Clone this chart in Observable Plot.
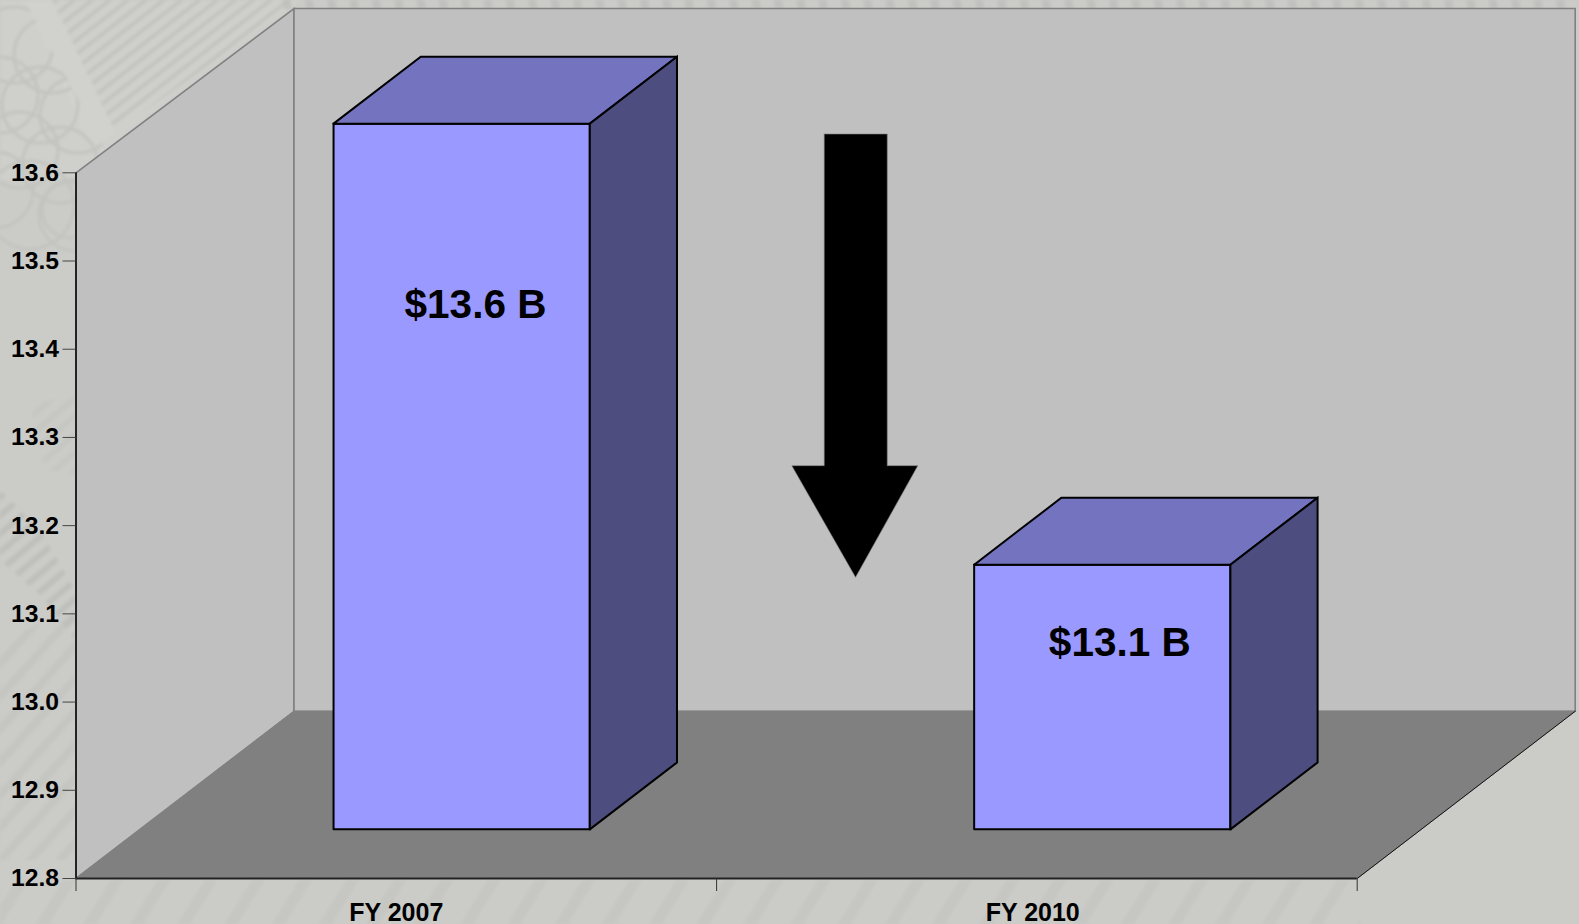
<!DOCTYPE html>
<html>
<head>
<meta charset="utf-8">
<style>
  html, body { margin: 0; padding: 0; width: 1579px; height: 924px; overflow: hidden; background: #cacac7; }
  #bg { position: absolute; left: 0; top: 0; filter: blur(1.6px); }
  #chart { position: absolute; left: 0; top: 0; }
</style>
<script src="https://cdn.jsdelivr.net/npm/d3@7"></script>
<script src="https://cdn.jsdelivr.net/npm/@observablehq/plot@0.6"></script>
</head>
<body>
<!-- faint banknote engraving behind the chart: decoration only, no data -->
<svg id="bg" width="1579" height="924" xmlns="http://www.w3.org/2000/svg">
  <defs>
    <pattern id="h1" width="11" height="11" patternUnits="userSpaceOnUse" patternTransform="rotate(-38)">
      <rect width="11" height="3.5" fill="#c2c2bf"/>
    </pattern>
    <pattern id="h2" width="14" height="14" patternUnits="userSpaceOnUse" patternTransform="rotate(-40)">
      <rect width="14" height="6" fill="#b8b8b5"/>
    </pattern>
    <pattern id="h3" width="22" height="22" patternUnits="userSpaceOnUse" patternTransform="rotate(-48)">
      <rect width="22" height="8" fill="#bdbdba"/>
    </pattern>
    <pattern id="h4" width="40" height="40" patternUnits="userSpaceOnUse" patternTransform="rotate(-58)">
      <rect width="40" height="11" fill="#bdbdbb"/>
    </pattern>
    <pattern id="h5" width="22" height="22" patternUnits="userSpaceOnUse" patternTransform="rotate(80)">
      <rect width="22" height="8" fill="#bcbcba"/>
    </pattern>
    <clipPath id="lat"><polygon points="0,0 25,0 105,150 80,280 0,280"/></clipPath>
  </defs>
  <rect width="1579" height="924" fill="#cbcbc8"/>
  <polygon points="0,0 300,0 130,130 75,180 0,180" fill="#cfcfcc"/>
  <polygon points="52,0 300,0 115,132" fill="url(#h1)"/>
  <polygon points="25,0 52,0 115,132 92,150" fill="#d1d1ce"/>
  <g clip-path="url(#lat)" fill="none" stroke="#c3c3c0" stroke-width="3">
    <circle cx="15" cy="45" r="38"/><circle cx="52" cy="55" r="38"/><circle cx="0" cy="95" r="38"/>
    <circle cx="40" cy="105" r="38"/><circle cx="78" cy="115" r="38"/><circle cx="20" cy="150" r="38"/>
    <circle cx="60" cy="165" r="38"/><circle cx="-5" cy="190" r="38"/><circle cx="75" cy="215" r="36"/>
    <circle cx="70" cy="210" r="28"/><circle cx="30" cy="205" r="44"/>
  </g>
  <polygon points="30,405 75,395 75,475 45,470" fill="url(#h2)" opacity=".25"/>
  <polygon points="0,490 40,530 75,590 75,640 40,595 0,560" fill="url(#h2)" opacity=".65"/>
  <polygon points="0,640 75,610 75,860 0,860" fill="url(#h3)" opacity=".4"/>
  <rect x="0" y="880" width="1360" height="44" fill="url(#h4)" opacity=".35"/>
  <rect x="280" y="0" width="1299" height="9" fill="url(#h5)" opacity=".7"/>
</svg>
<div id="chart"></div>
<script>
// Data
const categories = ["FY 2007", "FY 2010"];
const values = [13.6, 13.1];
const valueLabels = ["$13.6 B", "$13.1 B"];
const yTicks = [12.8, 12.9, 13.0, 13.1, 13.2, 13.3, 13.4, 13.5, 13.6];
const categoryCenters = [0.5, 1.4935];
const valueLabelX = [0.6236, 1.6294];
const valueLabelY = [13.4506, 13.0674];
const arrowX = [1.168, 1.2664, 1.2664, 1.3141, 1.2169, 1.1174, 1.168, 1.168];
const arrowY = [13.644, 13.644, 13.268, 13.268, 13.1414, 13.268, 13.268, 13.644];

// Oblique view: one unit of depth moves a point right and up, in data units
const baseValue = 12.8, topValue = 13.6, nCategories = 2;
const shearX = 218 / 640.6, shearY = 167.3 / 882.5;
const backTopValue = 13.5966;
const P = (c, v, d) => ({x: c + d * shearX, y: v + d * shearY});
const poly = (corners) => [...corners, corners[0]].map(([c, v, d]) => P(c, v, d));

const barHalf = 0.2, barShift = 0.002, d0 = 0.294, d1 = 0.694;
const barFaces = values.flatMap((v, i) => {
  const c0 = i + 0.5 + barShift - barHalf, c1 = i + 0.5 + barShift + barHalf;
  return [
    {pts: poly([[c0, baseValue, d0], [c1, baseValue, d0], [c1, v, d0], [c0, v, d0]]), fill: "#9999ff"},
    {pts: poly([[c0, v, d0], [c1, v, d0], [c1, v, d1], [c0, v, d1]]), fill: "#7373bf"},
    {pts: poly([[c1, baseValue, d0], [c1, baseValue, d1], [c1, v, d1], [c1, v, d0]]), fill: "#4d4d80"}
  ];
});

const face = (pts, o) => Plot.line(pts, {x: "x", y: "y", strokeLinejoin: "miter", strokeMiterlimit: 3, ...o});

const plot = Plot.plot({
  width: 1579, height: 924,
  marginLeft: 75.5, marginRight: 222.3, marginTop: 172.3, marginBottom: 46,
  style: {background: "transparent", fontFamily: "'Liberation Sans', Arial, sans-serif", color: "#000", overflow: "visible"},
  x: {type: "linear", domain: [0, nCategories]},
  y: {type: "linear", domain: [baseValue, topValue]},
  marks: [
    // side wall, back wall, floor
    face(poly([[0, baseValue, 0], [0, baseValue, 1], [0, backTopValue, 1], [0, topValue, 0]]), {fill: "#c0c0c0", stroke: "#808080", strokeWidth: 1.6}),
    face(poly([[0, baseValue, 1], [nCategories, baseValue, 1], [nCategories, backTopValue, 1], [0, backTopValue, 1]]), {fill: "#c0c0c0", stroke: "#808080", strokeWidth: 1.6}),
    face(poly([[0, baseValue, 0], [nCategories, baseValue, 0], [nCategories, baseValue, 1], [0, baseValue, 1]]), {fill: "#808080", stroke: "#808080", strokeWidth: 1}),
    face([P(nCategories, baseValue, 0), P(nCategories, baseValue, 1)], {stroke: "#111", strokeWidth: 1}),
    // bars
    ...barFaces.map(f => face(f.pts, {fill: f.fill, stroke: "#000", strokeWidth: 2})),
    // arrow
    face(arrowX.map((x, i) => ({x, y: arrowY[i]})), {fill: "#000", stroke: "#808080", strokeWidth: 0.6}),
    // axes
    Plot.ruleX([0], {y1: baseValue, y2: topValue, stroke: "#000", strokeWidth: 1.5}),
    Plot.ruleY([baseValue], {x1: 0, x2: nCategories, stroke: "#222", strokeWidth: 1.8}),
    Plot.axisY({ticks: yTicks, tickSize: 13, tickPadding: 4, tickFormat: d3.format(".1f"), label: null,
      fontSize: 24.7, fontWeight: "bold", fill: "#000", stroke: "#444", strokeWidth: 1}),
    Plot.axisX({ticks: d3.range(nCategories + 1), tickSize: 13, tickFormat: () => "", label: null, stroke: "#333", strokeWidth: 1}),
    Plot.text(categories, {x: (d, i) => categoryCenters[i], y: baseValue, dy: 34, text: d => d,
      fontSize: 25, fontWeight: "bold", fill: "#000"}),
    Plot.text(valueLabels, {x: (d, i) => valueLabelX[i], y: (d, i) => valueLabelY[i], text: d => d,
      fontSize: 40.5, fontWeight: "bold", fill: "#000"})
  ]
});
document.getElementById("chart").appendChild(plot);
</script>
</body>
</html>
